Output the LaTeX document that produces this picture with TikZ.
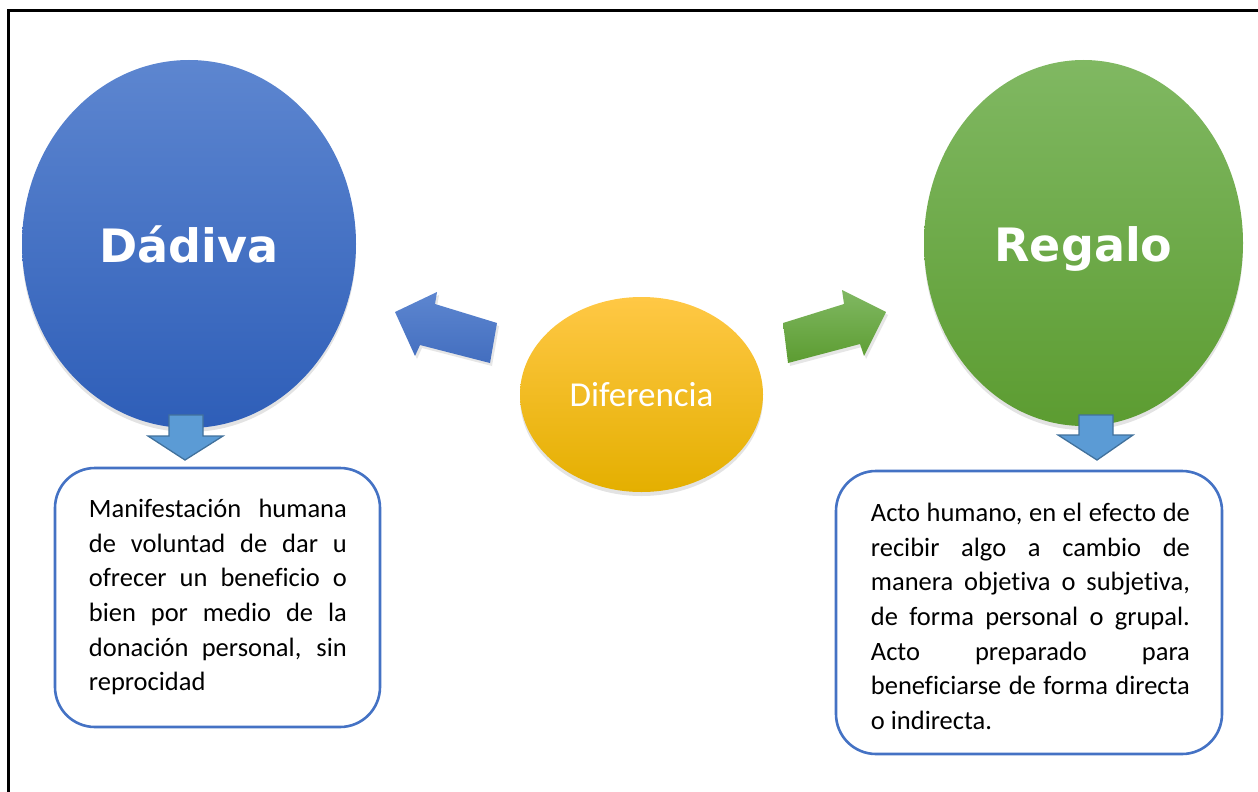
\documentclass[tikz,border=0pt]{standalone}
\usepackage{fontspec}
\setmainfont{Carlito}[Ligatures={NoCommon,NoContextual}, Contextuals=NoAlternate]
\newfontfamily\headfont{DejaVu Sans}
\usetikzlibrary{shapes.geometric,shadows,positioning}

\definecolor{dadivaTop}{HTML}{5D86D0}
\definecolor{dadivaBot}{HTML}{2E5EB8}
\definecolor{regaloTop}{HTML}{80B862}
\definecolor{regaloBot}{HTML}{5C9C31}
\definecolor{difTop}{HTML}{FFC845}
\definecolor{difBot}{HTML}{E4AF00}
\definecolor{boxBlue}{HTML}{4472C4}
\definecolor{downFill}{HTML}{5B9BD5}
\definecolor{downLine}{HTML}{41719C}

\begin{document}
\begin{tikzpicture}[x=1pt,y=-1pt,
    bubble/.style={ellipse, draw=none, text=white, inner sep=0pt,
        drop shadow={shadow xshift=0pt, shadow yshift=-4pt, opacity=0.22}},
    head/.style={font=\headfont\bfseries\fontsize{46}{46}\selectfont, text height=36pt, text depth=0pt},
    infobox/.style={rectangle, draw=boxBlue, line width=2.6pt, rounded corners=40pt, fill=white},
    infotext/.style={text width=#1, align=justify, inner sep=0pt, anchor=base west,
        font=\fontsize{26.5}{34.6}\selectfont},
    downarrow/.style={fill=downFill, draw=downLine, line width=1.3pt},
    sidearrow/.style={drop shadow={shadow xshift=2pt, shadow yshift=-3pt, opacity=0.2}}
]
    \useasboundingbox (0,0) rectangle (1258,792);
    \draw[line width=3pt] (8,800) -- (8,11) -- (1270,11);

    \node[bubble, head, minimum width=334pt, minimum height=368pt,
        top color=dadivaTop, bottom color=dadivaBot] (dadiva) at (189,244) {Dádiva};
    \node[bubble, head, minimum width=319pt, minimum height=366pt,
        top color=regaloTop, bottom color=regaloBot] (regalo) at (1083.5,243) {Regalo};
    \node[bubble, minimum width=243pt, minimum height=195pt,
        top color=difTop, bottom color=difBot,
        font=\fontsize{35}{35}\selectfont, text height=24pt, text depth=0pt] (diferencia) at (641.5,394.5) {Diferencia};

    \path[sidearrow, top color=dadivaTop, bottom color=dadivaBot!90!white]
        (395,312) -- (437,292) -- (435,304) -- (497,323) -- (490,363) -- (420,345) -- (415,356) -- cycle;
    \path[sidearrow, top color=regaloTop, bottom color=regaloBot]
        (886,312) -- (842,290) -- (844,304) -- (783,323) -- (788,363) -- (860,344) -- (864,356) -- cycle;

    \draw[downarrow] (169,415) -- (203,415) -- (203,436) -- (223,436) -- (185,460) -- (148,436) -- (169,436) -- cycle;
    \draw[downarrow] (1079,415) -- (1113,415) -- (1113,435) -- (1133,435) -- (1097,460) -- (1058,435) -- (1079,435) -- cycle;

    \node[infobox, minimum width=325pt, minimum height=259pt] (dadivabox) at (217.5,597.5) {};
    \node[infobox, minimum width=386pt, minimum height=283pt] (regalobox) at (1029,612.5) {};

    \node[infotext=258pt] (dadivatxt) at ([shift={(35,51)}]dadivabox.north west)
        {Manifestación humana\linebreak de voluntad de dar u\linebreak ofrecer un beneficio o\linebreak bien por medio de la\linebreak donación personal, sin\linebreak reprocidad};
    \node[infotext=319pt] (regalotxt) at ([shift={(36,52)}]regalobox.north west)
        {Acto humano, en el efecto de\linebreak recibir algo a cambio de\linebreak manera objetiva o subjetiva,\linebreak de forma personal o grupal.\linebreak Acto preparado para\linebreak beneficiarse de forma directa\linebreak o indirecta.};
\end{tikzpicture}
\end{document}
